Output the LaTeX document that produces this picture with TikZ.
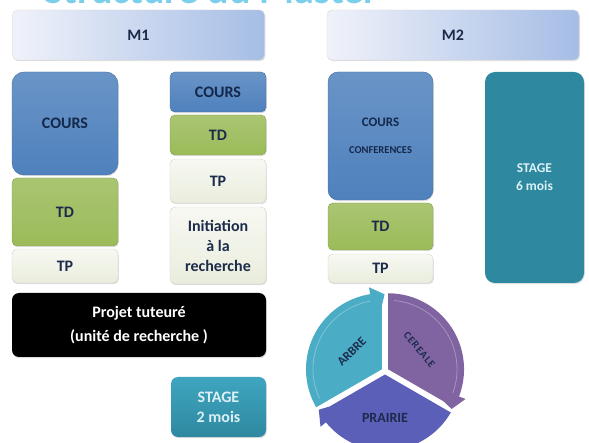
\documentclass[tikz,border=0pt]{standalone}
\usepackage{fontspec}
\setmainfont{Carlito}
\usetikzlibrary{shadows,positioning}
\definecolor{ink}{HTML}{1C2B4B}
\definecolor{coursink}{HTML}{14284A}
\definecolor{barl}{HTML}{F0F2FA}
\definecolor{barr}{HTML}{A5BDE5}
\definecolor{coursc}{HTML}{4F81BD}
\definecolor{tdc}{HTML}{9BBB59}
\definecolor{tpc}{HTML}{E9EDDC}
\definecolor{stagec}{HTML}{2E89A0}
\definecolor{stagelt}{HTML}{3FA5C0}
\definecolor{stagetxt}{HTML}{DCF0F5}
\definecolor{arbrec}{HTML}{4BACC6}
\definecolor{cerealec}{HTML}{8064A2}
\definecolor{prairiec}{HTML}{5B5FB8}
\definecolor{titlec}{HTML}{7CCFEA}

\begin{document}
\begin{tikzpicture}[x=1pt,y=-1pt,
  bloc/.style={rounded corners=5pt,inner sep=0pt,align=center,text=ink,
               font=\bfseries\fontsize{16}{20}\selectfont,
               drop shadow={shadow xshift=0.8pt,shadow yshift=-1.2pt,opacity=0.25}},
  niveau/.style={bloc,draw=gray!30,left color=barl,right color=barr,
                 minimum width=252pt,minimum height=50pt},
  cours/.style={bloc,draw=coursc!85!black,top color=coursc!85!white,bottom color=coursc,text=coursink},
  td/.style={bloc,draw=tdc!85!black,top color=tdc!85!white,bottom color=tdc},
  tp/.style={bloc,draw=gray!35,top color=tpc!35!white,bottom color=tpc},
  stage/.style={bloc,text=stagetxt},
  secteur/.style={font=\bfseries,text=ink,inner sep=0pt},
  reflet/.style={white,opacity=0.3,line width=0.8pt}]
\path[use as bounding box] (0,0) rectangle (589,443);
\clip (0,0) rectangle (589,443);

% titre coupe par le bord
\node[anchor=base east,inner sep=0pt,text=titlec,font=\bfseries\fontsize{40}{44}\selectfont] (titre) at (378,4) {Structure du Master};

\node[niveau] (m1) at (138.5,35) {M1};
\node[niveau] (m2) at (453,35) {M2};

% M1
\node[cours,rounded corners=12pt,minimum width=106pt,minimum height=103pt] (cours1) at (65,123.5) {COURS};
\node[td,minimum width=106pt,minimum height=68pt] (td1) at (65,212) {TD};
\node[tp,minimum width=106pt,minimum height=34pt] (tp1) at (65,266) {TP};
\node[cours,minimum width=96pt,minimum height=40pt] (coursr) at (218,92) {COURS};
\node[td,minimum width=96pt,minimum height=40pt] (tdr) at (218,135) {TD};
\node[tp,minimum width=96pt,minimum height=44pt] (tpr) at (218,181) {TP};
\node[tp,minimum width=96pt,minimum height=77pt] (init) at (218,245.5) {Initiation\\à la\\recherche};
\node[bloc,fill=black,text=white,rounded corners=7pt,minimum width=254pt,minimum height=64pt,
      font=\bfseries\fontsize{16}{24}\selectfont] (projet) at (139,325) {Projet tuteuré\\(unité de recherche )};
\node[stage,top color=stagelt,bottom color=stagec,rounded corners=7pt,minimum width=95pt,minimum height=60pt] (stage2) at (218.5,407) {STAGE\\2 mois};

% M2
\node[cours,rounded corners=10pt,minimum width=105pt,minimum height=128pt] (cours2) at (380.5,136)
  {{\fontsize{13}{16}\selectfont COURS}\\[7pt]{\fontsize{10.5}{12}\selectfont CONFERENCES}};
\node[td,minimum width=105pt,minimum height=47pt] (td2) at (380.5,226.5) {TD};
\node[tp,minimum width=105pt,minimum height=29pt] (tp2) at (380.5,268.5) {TP};
\node[stage,fill=stagec,rounded corners=10pt,minimum width=99pt,minimum height=211pt,
      font=\bfseries\fontsize{13.5}{18}\selectfont] (stage6) at (534.5,177.5) {STAGE\\6 mois};

% cycle des trois milieux
\begin{scope}[shift={(385,371)},yscale=-1]
  \begin{scope}[shift={(150:3.5)}]
    \fill[arbrec] (0,0) -- (210:76) arc[start angle=210,end angle=99,radius=76]
      -- (99:83) -- (88:75) -- (90:64) -- cycle;
    \draw[reflet] (205:69) arc[start angle=205,end angle=100,radius=69];
    \node[secteur,rotate=45,font=\bfseries\fontsize{12.5}{14}\selectfont] (arbre) at (150:35) {ARBRE};
  \end{scope}
  \begin{scope}[shift={(30:3.5)}]
    \fill[cerealec] (0,0) -- (90:76) arc[start angle=90,end angle=-21,radius=76]
      -- (-21:83) -- (-32:75) -- (-30:64) -- cycle;
    \draw[reflet] (85:69) arc[start angle=85,end angle=-20,radius=69];
    \node[secteur,rotate=-50,font=\bfseries\fontsize{10.5}{12}\selectfont\addfontfeature{LetterSpace=8}] (cereale) at (32:37) {CEREALE};
  \end{scope}
  \begin{scope}[shift={(270:3.5)}]
    \fill[prairiec] (0,0) -- (-30:76) arc[start angle=-30,end angle=-141,radius=76]
      -- (-141:83) -- (-152:75) -- (-150:64) -- cycle;
    \node[secteur,font=\bfseries\fontsize{14}{16}\selectfont] (prairie) at (270:43) {PRAIRIE};
  \end{scope}
\end{scope}
\end{tikzpicture}
\end{document}
